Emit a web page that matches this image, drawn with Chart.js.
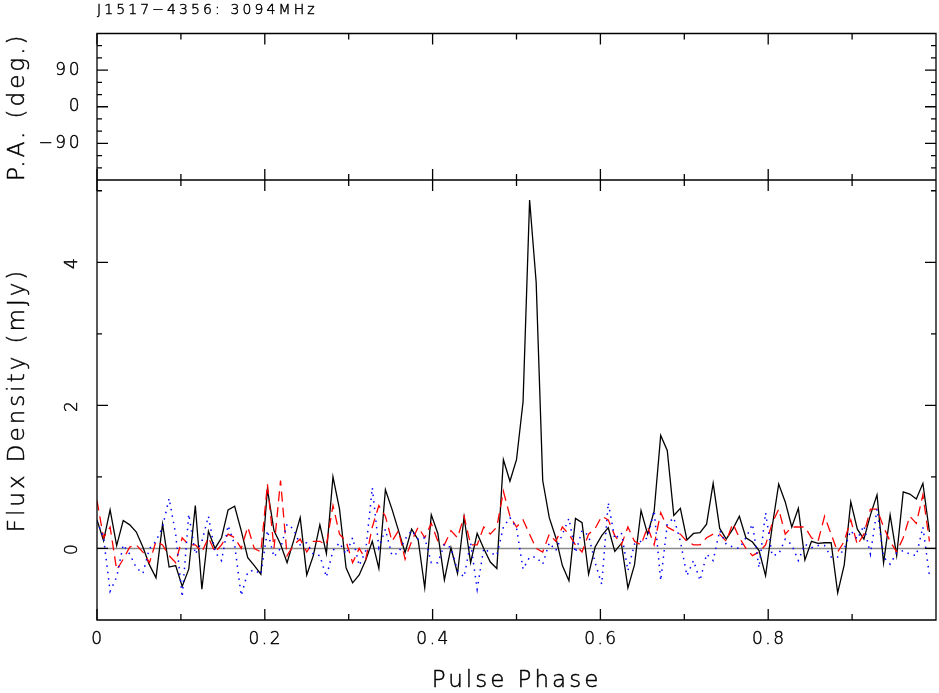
<!DOCTYPE html>
<html>
<head>
<meta charset="utf-8">
<script src="https://cdn.jsdelivr.net/npm/chart.js@4/dist/chart.umd.min.js"></script>
<style>
html, body { margin: 0; padding: 0; background: #fff; }
</style>
</head>
<body>
<canvas id="perfil" width="939" height="693"></canvas>
<script>
// J1517-4356 a 3094MHz, 128 bins de fase
const titulo = "J1517\u22124356: 3094MHz";
const NBIN = 128;

// intensidade total (preto)
const intensidade = [
    0.40, 0.11, 0.54, 0.04, 0.39, 0.33, 0.23, 0.02, -0.23, -0.41, 0.34, -0.26, -0.24, -0.53, -0.29, 0.60,
    -0.57, 0.24, 0.00, 0.15, 0.54, 0.59, 0.25, -0.13, -0.24, -0.36, 0.83, 0.25, 0.06, -0.20, 0.11, 0.43,
    -0.37, -0.10, 0.33, -0.07, 1.00, 0.55, -0.27, -0.48, -0.37, -0.16, 0.10, -0.28, 0.82, 0.55, 0.25, -0.06,
    0.27, 0.12, -0.55, 0.47, 0.21, -0.44, 0.01, -0.35, 0.44, -0.20, 0.21, 0.00, -0.19, -0.28, 1.24, 0.94,
    1.24, 2.05, 4.87, 3.72, 0.95, 0.43, 0.15, -0.24, -0.45, 0.42, 0.36, -0.36, 0.02, 0.18, 0.29, -0.04,
    0.07, -0.55, -0.23, 0.53, 0.20, 0.52, 1.58, 1.37, 0.46, 0.56, 0.12, 0.21, 0.22, 0.34, 0.91, 0.28,
    0.13, 0.27, 0.45, 0.15, 0.09, -0.03, -0.38, 0.30, 0.90, 0.65, 0.30, 0.56, -0.16, 0.10, 0.07, 0.08,
    0.08, -0.62, -0.23, 0.65, 0.27, 0.13, 0.47, 0.75, -0.20, 0.47, -0.10, 0.79, 0.76, 0.69, 0.91, 0.23
];

// polarizacao linear (vermelho tracejado)
const linear = [
    0.67, 0.15, 0.30, -0.30, -0.15, 0.02, 0.05, -0.05, -0.20, 0.10, 0.05, -0.10, -0.20, 0.15, 0.05, 0.05,
    -0.05, 0.15, -0.05, 0.05, 0.20, 0.15, 0.00, 0.30, 0.00, -0.05, 0.90, 0.00, 0.95, -0.10, 0.05, 0.13,
    -0.05, 0.10, 0.10, 0.05, 0.60, 0.20, 0.10, -0.20, 0.00, -0.15, 0.30, 0.60, 0.45, 0.10, 0.25, -0.15,
    0.10, 0.30, 0.15, 0.35, 0.10, 0.05, 0.25, 0.15, 0.45, 0.05, 0.05, 0.30, 0.20, 0.30, 0.80, 0.45,
    0.30, 0.40, 0.20, 0.00, -0.05, 0.20, 0.10, 0.30, 0.20, 0.05, -0.05, 0.20, 0.28, 0.45, 0.40, 0.18,
    0.05, 0.30, 0.10, 0.05, 0.30, 0.05, 0.50, 0.30, 0.25, 0.20, 0.10, 0.05, 0.05, 0.15, 0.20, 0.20,
    0.10, 0.35, 0.15, 0.00, -0.10, -0.05, 0.05, 0.35, 0.55, 0.20, 0.30, 0.30, 0.30, 0.15, 0.10, 0.45,
    0.20, -0.05, 0.10, 0.40, 0.05, 0.20, 0.55, 0.55, 0.30, 0.10, -0.05, 0.15, 0.45, 0.35, 0.75, 0.10
];

// polarizacao circular (azul pontilhado)
const circular = [
    0.38, 0.15, -0.60, -0.40, 0.05, -0.08, -0.27, -0.35, 0.00, 0.10, 0.30, 0.70, 0.20, -0.68, 0.48, -0.08,
    0.10, 0.45, -0.05, -0.17, 0.32, 0.05, -0.66, -0.33, -0.30, -0.36, 0.25, -0.12, 0.00, 0.34, 0.27, 0.05,
    0.08, -0.08, -0.10, -0.40, -0.03, 0.08, -0.08, 0.15, -0.24, -0.03, 0.85, 0.01, 0.27, -0.10, -0.06, 0.13,
    0.25, 0.13, 0.15, -0.20, -0.20, 0.06, 0.01, -0.31, -0.40, 0.08, -0.57, 0.00, -0.06, -0.10, 0.30, 0.43,
    0.29, -0.29, -0.12, -0.12, -0.22, 0.08, -0.03, 0.20, 0.42, -0.06, 0.25, 0.18, -0.20, -0.50, 0.64, 0.13,
    0.22, -0.31, 0.06, 0.10, 0.15, 0.53, -0.45, 0.34, 0.43, 0.10, -0.38, -0.17, -0.45, -0.08, -0.17, 0.25,
    0.06, 0.02, 0.00, 0.15, 0.34, -0.27, 0.50, -0.10, -0.08, 0.13, 0.05, -0.17, 0.06, 0.01, 0.04, 0.04,
    -0.12, -0.12, -0.01, 0.25, 0.13, 0.32, -0.08, 0.55, -0.12, -0.22, -0.06, -0.03, -0.08, -0.10, 0.30, -0.38
];

// centro de cada bin
const fase = Array.from({ length: NBIN }, (_, i) => i / NBIN);

// marcas dos eixos
const faseMaior = [0, 0.2, 0.4, 0.6, 0.8];
const faseRotulos = ["0", "0.2", "0.4", "0.6", "0.8"];
const faseMenor = [0.1, 0.3, 0.5, 0.7, 0.9];
const fluxoMaior = [0, 2, 4];
const fluxoRotulos = ["0", "2", "4"];
const fluxoMenor = [1, 3, 5];
const paMaior = [90, 0, -90];
const paRotulos = ["90", "0", "\u221290"];
const paMenor = [150, 120, 60, 30, -30, -60, -120, -150];

const FONTE = "'DejaVu Sans', sans-serif";

function texto(ctx, str, x, y, tam, espaco, align, rot) {
    ctx.save();
    ctx.font = "200 " + tam + "px " + FONTE;
    ctx.letterSpacing = espaco + "px";
    ctx.fillStyle = "#000";
    ctx.strokeStyle = "#000";
    ctx.lineWidth = 0.45;
    ctx.textAlign = align;
    ctx.textBaseline = "middle";
    ctx.translate(x, y);
    if (rot) ctx.rotate(-Math.PI / 2);
    ctx.fillText(str, 0, 0);
    ctx.strokeText(str, 0, 0);
    ctx.restore();
}

const moldura = {
    id: "moldura",
    beforeDatasetsDraw(chart) {
        const ctx = chart.ctx;
        const x = chart.scales.x;
        const y = chart.scales.y;
        const y0 = y.getPixelForValue(0);
        ctx.save();
        ctx.strokeStyle = "#8a8a8a";
        ctx.lineWidth = 1.6;
        ctx.beginPath();
        ctx.moveTo(x.left, y0);
        ctx.lineTo(x.right, y0);
        ctx.stroke();
        ctx.restore();
    },
    afterDraw(chart) {
        const ctx = chart.ctx;
        const x = chart.scales.x;
        const yf = chart.scales.y;
        const yp = chart.scales.pa;
        const L = x.left, R = x.right;

        ctx.save();
        ctx.strokeStyle = "#000";
        ctx.lineWidth = 1.3;
        ctx.beginPath();
        ctx.rect(L, yp.top, R - L, yp.bottom - yp.top);
        ctx.rect(L, yf.top, R - L, yf.bottom - yf.top);
        ctx.stroke();

        ctx.beginPath();
        // marcas de fase, topo e base de cada painel
        [[yp.top, 1], [yp.bottom, -1], [yf.top, 1], [yf.bottom, -1]].forEach(([yy, s]) => {
            faseMaior.forEach(v => {
                const px = x.getPixelForValue(v);
                ctx.moveTo(px, yy); ctx.lineTo(px, yy + s * 11);
            });
            faseMenor.forEach(v => {
                const px = x.getPixelForValue(v);
                ctx.moveTo(px, yy); ctx.lineTo(px, yy + s * 6);
            });
        });
        // marcas verticais, esquerda e direita
        [[L, 1], [R, -1]].forEach(([xx, s]) => {
            paMaior.forEach(v => {
                const py = yp.getPixelForValue(v);
                ctx.moveTo(xx, py); ctx.lineTo(xx + s * 11, py);
            });
            paMenor.forEach(v => {
                const py = yp.getPixelForValue(v);
                ctx.moveTo(xx, py); ctx.lineTo(xx + s * 5, py);
            });
            fluxoMaior.forEach(v => {
                const py = yf.getPixelForValue(v);
                ctx.moveTo(xx, py); ctx.lineTo(xx + s * 11, py);
            });
            fluxoMenor.forEach(v => {
                const py = yf.getPixelForValue(v);
                ctx.moveTo(xx, py); ctx.lineTo(xx + s * 5, py);
            });
        });
        ctx.stroke();
        ctx.restore();

        // rotulos
        faseMaior.forEach((v, i) => {
            texto(ctx, faseRotulos[i], x.getPixelForValue(v) + 1, yf.bottom + 20, 17, 2.5, "center", false);
        });
        fluxoMaior.forEach((v, i) => {
            texto(ctx, fluxoRotulos[i], L - 24, yf.getPixelForValue(v), 17, 2.5, "center", true);
        });
        paMaior.forEach((v, i) => {
            texto(ctx, paRotulos[i], L - 15, yp.getPixelForValue(v), 17, 2.5, "right", false);
        });

        texto(ctx, "Pulse Phase", (L + R) / 2, yf.bottom + 61, 23, 3, "center", false);
        texto(ctx, "Flux Density (mJy)", 18, (yf.top + yf.bottom) / 2, 23, 3, "center", true);
        texto(ctx, "P.A. (deg.)", 18, (yp.top + yp.bottom) / 2, 23, 3, "center", true);
        texto(ctx, titulo, L, 10, 14, 3.1, "left", false);
    }
};

const ctx = document.getElementById("perfil").getContext("2d");

new Chart(ctx, {
    type: "line",
    data: {
        labels: fase,
        datasets: [
            {
                label: "I",
                data: intensidade,
                yAxisID: "y",
                borderColor: "#000000",
                borderWidth: 1.3,
                pointRadius: 0,
                tension: 0,
                order: 3
            },
            {
                label: "L",
                data: linear,
                yAxisID: "y",
                borderColor: "#ff0000",
                borderWidth: 1.3,
                borderDash: [10, 6],
                pointRadius: 0,
                tension: 0,
                order: 2
            },
            {
                label: "V",
                data: circular,
                yAxisID: "y",
                borderColor: "#0000ff",
                borderWidth: 1.5,
                borderDash: [1.5, 5],
                pointRadius: 0,
                tension: 0,
                order: 1
            }
        ]
    },
    options: {
        responsive: false,
        animation: false,
        events: [],
        layout: {
            padding: { top: 33.5, right: 3, left: 0, bottom: 0 }
        },
        plugins: {
            legend: { display: false },
            tooltip: { enabled: false }
        },
        scales: {
            x: {
                type: "linear",
                min: 0,
                max: 1,
                grid: { display: false },
                border: { display: false },
                ticks: { display: false },
                afterFit(s) { s.height = 73; }
            },
            y: {
                type: "linear",
                position: "left",
                stack: "painel",
                stackWeight: 440,
                min: -1.0,
                max: 5.15,
                grid: { display: false },
                border: { display: false },
                ticks: { display: false },
                afterFit(s) { s.width = 97; }
            },
            pa: {
                type: "linear",
                position: "left",
                stack: "painel",
                stackWeight: 146.5,
                min: -180,
                max: 180,
                grid: { display: false },
                border: { display: false },
                ticks: { display: false },
                afterFit(s) { s.width = 97; }
            }
        }
    },
    plugins: [moldura]
});
</script>
</body>
</html>
